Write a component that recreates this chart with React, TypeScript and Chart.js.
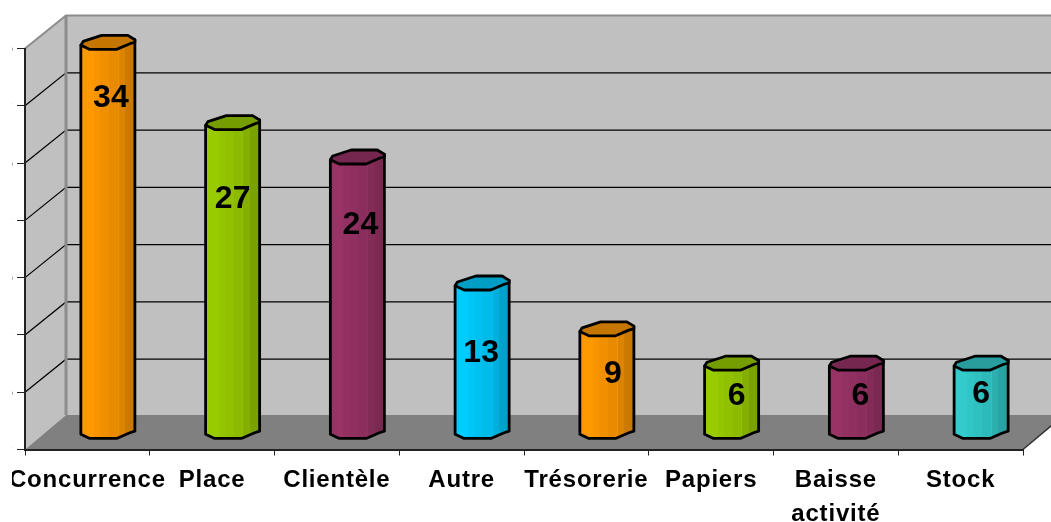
import { useEffect, useRef } from "react";
import { Chart, registerables } from "chart.js";

Chart.register(...registerables);

const categories: (string | string[])[] = [
  "Concurrence",
  "Place",
  "Clientèle",
  "Autre",
  "Trésorerie",
  "Papiers",
  ["Baisse", "activité"],
  "Stock",
];
const counts = [34, 27, 24, 13, 9, 6, 6, 6];
const barColors = [
  "#FF9900",
  "#99CC00",
  "#993366",
  "#00CCFF",
  "#FF9900",
  "#99CC00",
  "#993366",
  "#33CCCC",
];

// Offset of each value label from the centre of its cylinder's cap.
const labelShiftX = [3, 0, 3, -1, 6, 5, 4, 0];
const labelShiftY = [55, 76, 68, 70, 45, 33, 33, 31];

const FONT = '"Liberation Sans", Arial, sans-serif';
const DEPTH_X = 41;
const DEPTH_Y = 34.5;
const WALL_DEPTH_Y = 33;

// Faceted outline of the cylinder's ellipse, in units of half the bar width.
const ELLIPSE: [number, number][] = [
  [-1.0, 0.09],
  [-0.915, -0.048],
  [-0.233, -0.27],
  [0.74, -0.27],
  [1, -0.11],
  [1, -0.02],
  [0.815, 0.037],
  [0.322, 0.248],
  [-0.667, 0.248],
];

// Stepped shading across the cylinder's body: [start of band, brightness].
const BANDS: [number, number][] = [
  [0, 1],
  [0.24, 0.97],
  [0.36, 0.94],
  [0.52, 0.91],
  [0.68, 0.95],
  [0.7, 0.86],
  [0.82, 0.8],
  [1, 0.79],
];

function shade(hex: string, k: number): string {
  const n = parseInt(hex.slice(1), 16);
  const r = Math.round(((n >> 16) & 255) * k);
  const g = Math.round(((n >> 8) & 255) * k);
  const b = Math.round((n & 255) * k);
  return `rgb(${r},${g},${b})`;
}

const roomPlugin = {
  id: "room",
  beforeDraw(chart: any) {
    const { ctx, chartArea, scales, width } = chart;
    const { left, right, top, bottom } = chartArea;
    const yScale = scales.y;
    const backLeft = left + DEPTH_X;
    const backRight = right + DEPTH_X;
    const backTop = top - WALL_DEPTH_Y;
    const backBottom = bottom - DEPTH_Y;

    ctx.save();
    ctx.fillStyle = "#C0C0C0";
    ctx.fillRect(backLeft, backTop, width - backLeft, backBottom - backTop);
    ctx.beginPath();
    ctx.moveTo(left, bottom);
    ctx.lineTo(left, top);
    ctx.lineTo(backLeft, backTop);
    ctx.lineTo(backLeft, backBottom);
    ctx.closePath();
    ctx.fill();

    ctx.fillStyle = "#808080";
    ctx.beginPath();
    ctx.moveTo(left, bottom);
    ctx.lineTo(right, bottom);
    ctx.lineTo(backRight, backBottom);
    ctx.lineTo(backLeft, backBottom);
    ctx.closePath();
    ctx.fill();

    ctx.strokeStyle = "#000";
    ctx.lineWidth = 1.2;
    for (const tick of yScale.ticks) {
      if (tick.value === 0 || tick.value === yScale.max) continue;
      const y = yScale.getPixelForValue(tick.value);
      ctx.beginPath();
      ctx.moveTo(left, y);
      ctx.lineTo(backLeft, y - WALL_DEPTH_Y);
      ctx.lineTo(width, y - WALL_DEPTH_Y);
      ctx.stroke();
    }

    ctx.strokeStyle = "#8C8C8C";
    ctx.lineWidth = 2;
    ctx.beginPath();
    ctx.moveTo(left, top);
    ctx.lineTo(backLeft, backTop);
    ctx.lineTo(width, backTop);
    ctx.stroke();
    ctx.lineWidth = 3;
    ctx.beginPath();
    ctx.moveTo(backLeft, backTop);
    ctx.lineTo(backLeft, backBottom);
    ctx.stroke();

    ctx.strokeStyle = "#333";
    ctx.lineWidth = 1.5;
    ctx.beginPath();
    ctx.moveTo(right, bottom);
    ctx.lineTo(backRight, backBottom);
    ctx.stroke();
    ctx.restore();

    // Tick labels inherit this spacing when the scales render them.
    ctx.letterSpacing = "0.8px";
  },
  beforeDatasetDraw(chart: any, args: any) {
    const { ctx } = chart;
    const colors = chart.data.datasets[args.index].backgroundColor;
    ctx.save();
    args.meta.data.forEach((bar: any, i: number) => {
      const half = bar.width / 2;
      const cx = bar.x + DEPTH_X / 2;
      const topY = bar.y - DEPTH_Y / 2;
      const baseY = bar.base - DEPTH_Y / 2;
      const pt = (p: [number, number], y: number): [number, number] => [
        cx + p[0] * half,
        y + p[1] * half,
      ];

      const gradient = ctx.createLinearGradient(cx - half, 0, cx + half, 0);
      BANDS.forEach(([start, k], b) => {
        gradient.addColorStop(start, shade(colors[i], k));
        const next = BANDS[b + 1];
        if (next && next[0] < 1) gradient.addColorStop(next[0] - 0.001, shade(colors[i], k));
      });

      ctx.lineJoin = "round";
      ctx.lineWidth = 2.8;
      ctx.strokeStyle = "#000";

      // Body: down the left side, along the lower front rim, up the right side.
      ctx.beginPath();
      ctx.moveTo(...pt(ELLIPSE[4], topY));
      ctx.lineTo(...pt(ELLIPSE[0], topY));
      ctx.lineTo(...pt(ELLIPSE[0], baseY));
      ctx.lineTo(...pt(ELLIPSE[8], baseY));
      ctx.lineTo(...pt(ELLIPSE[7], baseY));
      ctx.lineTo(...pt(ELLIPSE[6], baseY));
      ctx.lineTo(...pt(ELLIPSE[5], baseY));
      ctx.lineTo(...pt(ELLIPSE[4], baseY));
      ctx.closePath();
      ctx.fillStyle = gradient;
      ctx.fill();
      ctx.stroke();

      // Cap.
      ctx.beginPath();
      ELLIPSE.forEach((p, k) => {
        const [x, y] = pt(p, topY);
        if (k === 0) ctx.moveTo(x, y);
        else ctx.lineTo(x, y);
      });
      ctx.closePath();
      ctx.fillStyle = shade(colors[i], 0.77);
      ctx.fill();
      ctx.stroke();
    });
    ctx.restore();
    return false;
  },
  afterDatasetsDraw(chart: any) {
    const { ctx } = chart;
    const bars = chart.getDatasetMeta(0).data;
    ctx.save();
    ctx.letterSpacing = "0px";
    ctx.font = `bold 32px ${FONT}`;
    ctx.fillStyle = "#000";
    ctx.textAlign = "center";
    ctx.textBaseline = "middle";
    bars.forEach((bar: any, i: number) => {
      ctx.fillText(
        String(counts[i]),
        bar.x + DEPTH_X / 2 + labelShiftX[i],
        bar.y - DEPTH_Y / 2 + labelShiftY[i],
      );
    });
    ctx.restore();
  },
};

export default function App() {
  const ref = useRef<HTMLCanvasElement>(null);

  useEffect(() => {
    const chart = new Chart(ref.current!, {
      type: "bar",
      data: {
        labels: categories,
        datasets: [{ data: counts, backgroundColor: barColors }],
      },
      options: {
        animation: false,
        responsive: false,
        layout: { padding: { left: 0, top: 48.5, right: 28, bottom: 0 } },
        plugins: { legend: { display: false }, tooltip: { enabled: false } },
        datasets: { bar: { categoryPercentage: 1, barPercentage: 0.433 } },
        scales: {
          x: {
            grid: { drawOnChartArea: false, tickLength: 6, color: "#222", tickWidth: 1 },
            border: { color: "#222", width: 2 },
            ticks: {
              autoSkip: false,
              maxRotation: 0,
              minRotation: 0,
              padding: 8,
              color: "#000",
              font: { family: FONT, size: 24, weight: "bold", lineHeight: 1.42 },
            },
            afterFit(scale: any) {
              scale.height = 72.5;
              scale.paddingLeft = 0;
              scale.paddingRight = 0;
            },
          },
          y: {
            min: 0,
            max: 35,
            grid: { drawOnChartArea: false, tickLength: 8, color: "#222", tickWidth: 1 },
            border: { color: "#222", width: 2 },
            ticks: {
              stepSize: 5,
              padding: 3,
              color: "#000",
              font: { family: FONT, size: 24, weight: "bold" },
            },
            afterFit(scale: any) {
              scale.width = 13;
              scale.paddingTop = 0;
              scale.paddingBottom = 0;
            },
          },
        },
      },
      plugins: [roomPlugin],
    });
    return () => chart.destroy();
  }, []);

  return (
    <canvas
      ref={ref}
      width={1039}
      height={522}
      style={{ position: "absolute", left: 12, top: 0, width: 1039, height: 522, display: "block" }}
    />
  );
}
